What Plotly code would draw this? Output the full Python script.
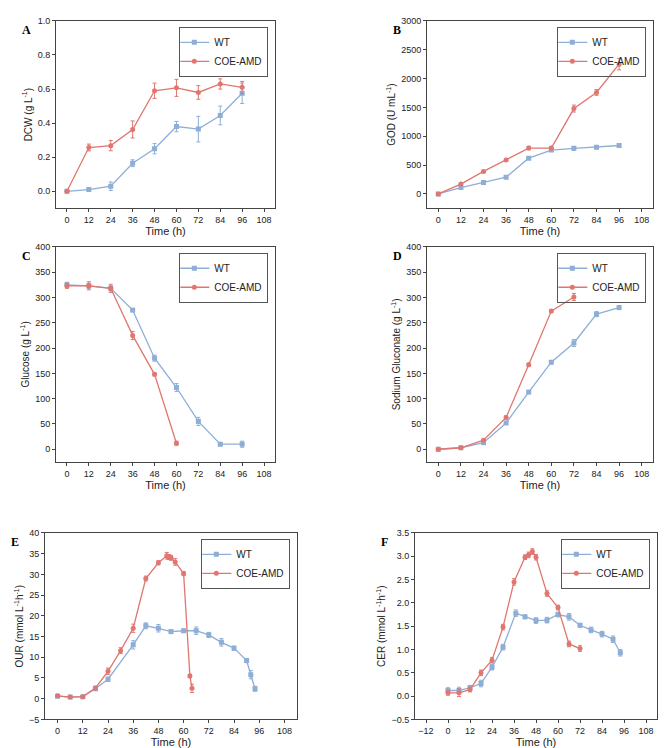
import plotly.graph_objects as go

# ---- data ----
t9 = [0, 12, 24, 36, 48, 60, 72, 84, 96]

dcw_wt = [0, 0.01, 0.03, 0.165, 0.25, 0.38, 0.365, 0.445, 0.575]
dcw_wt_err = [0, 0.01, 0.025, 0.02, 0.03, 0.03, 0.075, 0.055, 0.06]
dcw_coe = [0, 0.257, 0.268, 0.363, 0.59, 0.607, 0.58, 0.63, 0.61]
dcw_coe_err = [0, 0.02, 0.03, 0.05, 0.045, 0.05, 0.04, 0.03, 0.035]

god_wt = [0, 110, 200, 290, 620, 760, 790, 810, 840]
god_wt_err = [10, 15, 15, 20, 20, 25, 30, 25, 25]
god_coe = [0, 170, 390, 590, 795, 795, 1480, 1760, 2250]
god_coe_err = [10, 20, 20, 20, 30, 30, 60, 50, 100]

glc_wt = [325, 323, 318, 275, 180, 122, 55, 10, 10]
glc_wt_err = [5, 5, 5, 3, 6, 8, 8, 3, 6]
t_glc_coe = [0, 12, 24, 36, 48, 60]
glc_coe = [323, 323, 318, 225, 148, 12]
glc_coe_err = [5, 8, 8, 8, 3, 4]

sg_wt = [0, 3, 13, 52, 113, 172, 210, 267, 280]
sg_wt_err = [1, 1, 2, 3, 3, 3, 7, 5, 4]
t_sg_coe = [0, 12, 24, 36, 48, 60, 72]
sg_coe = [0, 3, 18, 63, 167, 273, 301]
sg_coe_err = [1, 1, 2, 3, 3, 3, 7]

t_our_wt = [0, 6, 12, 18, 24, 36, 42, 48, 54, 60, 66, 72, 78, 84, 90, 92, 94]
our_wt = [0.6, 0.4, 0.5, 2.4, 4.7, 13, 17.6, 17, 16.2, 16.4, 16.4, 15.4, 13.6, 12.2, 9.2, 5.8, 2.4]
our_wt_err = [0.3, 0.2, 0.2, 0.4, 0.5, 1.0, 0.7, 0.9, 0.5, 0.4, 0.9, 0.6, 0.9, 0.5, 0.5, 1.0, 0.6]
t_our_coe = [0, 6, 12, 18, 24, 30, 36, 42, 48, 52, 53, 54, 56, 60, 63, 64]
our_coe = [0.7, 0.4, 0.5, 2.6, 6.6, 11.6, 17, 29, 32.8, 34.5, 34.2, 34, 33, 30.2, 5.5, 2.5]
our_coe_err = [0.3, 0.2, 0.2, 0.4, 0.8, 0.7, 1.0, 0.6, 0.5, 0.8, 0.6, 0.6, 0.8, 0.5, 0.4, 1.0]

t_cer_wt = [0, 6, 12, 18, 24, 30, 37, 42, 48, 54, 60, 66, 72, 78, 84, 90, 94]
cer_wt = [0.12, 0.12, 0.18, 0.27, 0.62, 1.05, 1.78, 1.7, 1.62, 1.63, 1.75, 1.7, 1.52, 1.42, 1.33, 1.22, 0.93]
cer_wt_err = [0.06, 0.07, 0.05, 0.07, 0.06, 0.06, 0.07, 0.04, 0.06, 0.06, 0.05, 0.07, 0.04, 0.06, 0.06, 0.07, 0.07]
t_cer_coe = [0, 6, 12, 18, 24, 30, 36, 42, 44, 46, 48, 54, 60, 66, 72]
cer_coe = [0.07, 0.07, 0.14, 0.5, 0.77, 1.48, 2.45, 2.98, 3.03, 3.1, 2.98, 2.2, 1.9, 1.12, 1.02]
cer_coe_err = [0.05, 0.08, 0.05, 0.06, 0.06, 0.06, 0.07, 0.05, 0.06, 0.06, 0.06, 0.06, 0.05, 0.06, 0.06]

WT_C = '#8eaed6'
COE_C = '#e0766f'
H = 748

# pixel boxes: (x0, x1, ytop, ybottom)
panels = [
    dict(letter='A', box=(48, 267, 8, 198), yr=[-0.1, 1.0], dt=0.2, xr=[-6, 114], ytitle='DCW (g L<sup>-1</sup>)',
         wt=(t9, dcw_wt, dcw_wt_err), coe=(t9, dcw_coe, dcw_coe_err), fmt='.1f'),
    dict(letter='B', box=(419, 645, 8, 198), yr=[-250, 3000], dt=500, xr=[-6, 114], ytitle='GOD (U mL<sup>-1</sup>)',
         wt=(t9, god_wt, god_wt_err), coe=(t9, god_coe, god_coe_err), fmt='d'),
    dict(letter='C', box=(48, 267, 237, 455), yr=[-25, 400], dt=50, xr=[-6, 114], ytitle='Glucose (g L<sup>-1</sup>)',
         wt=(t9, glc_wt, glc_wt_err), coe=(t_glc_coe, glc_coe, glc_coe_err), fmt='d'),
    dict(letter='D', box=(419, 645, 237, 455), yr=[-25, 400], dt=50, xr=[-6, 114], ytitle='Sodium Gluconate (g L<sup>-1</sup>)',
         wt=(t9, sg_wt, sg_wt_err), coe=(t_sg_coe, sg_coe, sg_coe_err), fmt='d'),
    dict(letter='E', box=(37, 289, 527, 716), yr=[-5, 40], dt=5, xr=[-6, 114], ytitle='OUR (mmol L<sup>-1</sup>h<sup>-1</sup>)',
         wt=(t_our_wt, our_wt, our_wt_err), coe=(t_our_coe, our_coe, our_coe_err), fmt='d'),
    dict(letter='F', box=(407, 649, 527, 716), yr=[-0.5, 3.5], dt=0.5, xr=[-18, 114], ytitle='CER (mmol L<sup>-1</sup>h<sup>-1</sup>)',
         wt=(t_cer_wt, cer_wt, cer_wt_err), coe=(t_cer_coe, cer_coe, cer_coe_err), fmt='.1f'),
]

fig = go.Figure()
layout = {}
annotations = []
for i, p in enumerate(panels):
    n = i + 1
    sx = '' if n == 1 else str(n)
    x0, x1, yt, yb = p['box']
    xd = [x0 / 667, x1 / 667]
    yd = [1 - yb / H, 1 - yt / H]
    leg = 'legend' + sx
    for name, (tx, ty, te), col, sym in [('WT', p['wt'], WT_C, 'square'), ('COE-AMD', p['coe'], COE_C, 'circle')]:
        fig.add_trace(go.Scatter(
            x=tx, y=ty, name=name, mode='lines+markers', xaxis='x' + sx, yaxis='y' + sx, legend=leg,
            line=dict(color=col, width=1.3), marker=dict(symbol=sym, size=5, color=col),
            error_y=dict(type='data', array=te, color=col, thickness=1, width=2)))
    axis_common = dict(showline=True, mirror=True, linecolor='#444', linewidth=1, ticks='outside',
                       ticklen=3, tickcolor='#444', showgrid=False, zeroline=False,
                       tickfont=dict(size=9, family='Arial, Liberation Sans', color='#222'))
    layout['xaxis' + sx] = dict(axis_common, domain=xd, range=p['xr'], dtick=12, tick0=0, anchor='y' + sx,
                                title=dict(text='Time (h)', font=dict(size=11), standoff=3))
    layout['yaxis' + sx] = dict(axis_common, domain=yd, range=p['yr'], dtick=p['dt'], tick0=0, anchor='x' + sx,
                                tickformat=p['fmt'], title=dict(text=p['ytitle'], font=dict(size=10), standoff=3))
    layout[leg] = dict(x=xd[1] - 0.01, y=yd[1] - 0.008, xanchor='right', yanchor='top',
                       bordercolor='#555', borderwidth=1, bgcolor='rgba(255,255,255,0)',
                       itemwidth=30, tracegroupgap=0, indentation=-6,
                       font=dict(size=10, family='Arial, Liberation Sans'))
    annotations.append(dict(text='<b>' + p['letter'] + '</b>', xref='paper', yref='paper',
                            x=(x0 - 36) / 667, y=yd[1], xanchor='left', yanchor='top', showarrow=False,
                            font=dict(size=12, family='Liberation Serif', color='black')))

fig.update_layout(width=667, height=748, margin=dict(l=0, r=0, t=0, b=0), plot_bgcolor='white',
                  paper_bgcolor='white', font=dict(family='Arial, Liberation Sans', color='#222'),
                  annotations=annotations, **layout)
fig.write_html('out.html')
